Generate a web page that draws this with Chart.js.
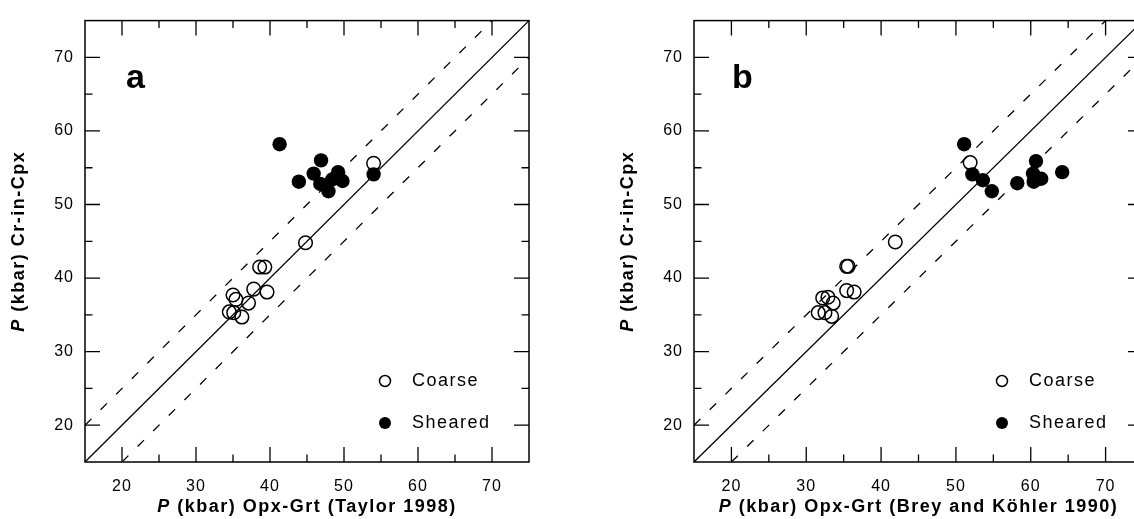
<!DOCTYPE html>
<html>
<head>
<meta charset="utf-8">
<script src="https://cdn.jsdelivr.net/npm/chart.js@4.4.1/dist/chart.umd.min.js"></script>
<style>
html, body { margin: 0; padding: 0; background: #fff; width: 1134px; height: 519px; overflow: hidden; }
canvas { position: absolute; top: 0; }
#chartA { left: 0; }
#chartB { left: 609px; }
</style>
</head>
<body>
<canvas id="chartA" width="560" height="519"></canvas>
<canvas id="chartB" width="565" height="519"></canvas>
<script>
var FONT = "'Liberation Sans', Arial, Helvetica, sans-serif";

// panel a - Opx-Grt after Taylor 1998
var coarseA_x = [34.5, 35.1, 35.0, 35.4, 36.2, 37.1, 37.8, 39.6, 38.6, 39.3, 44.8, 54.0];
var coarseA_y = [35.4, 35.3, 37.7, 37.1, 34.7, 36.6, 38.5, 38.1, 41.5, 41.5, 44.8, 55.6];
var shearedA_x = [41.3, 43.9, 46.9, 45.9, 46.8, 47.9, 48.4, 49.2, 49.8, 54.0];
var shearedA_y = [58.2, 53.1, 56.0, 54.2, 52.8, 51.8, 53.4, 54.4, 53.2, 54.1];

// panel b - Opx-Grt after Brey and Kohler 1990
var coarseB_x = [31.6, 32.5, 32.2, 32.9, 33.6, 33.4, 35.4, 35.6, 35.4, 36.4, 41.9, 51.9];
var coarseB_y = [35.3, 35.3, 37.3, 37.4, 36.6, 34.8, 41.6, 41.6, 38.3, 38.1, 44.9, 55.7];
var shearedB_x = [51.1, 52.2, 53.6, 54.8, 58.2, 60.7, 60.3, 60.4, 61.4, 64.2];
var shearedB_y = [58.2, 54.1, 53.3, 51.8, 52.9, 55.9, 54.2, 53.1, 53.5, 54.4];

// 1:1 line and +/- 5 kbar lines (data units)
var lineOne_x = [15, 75];   var lineOne_y = [15, 75];
var lineUp_x  = [15, 70];   var lineUp_y  = [20, 75];
var lineLow_x = [20, 75];   var lineLow_y = [15, 70];

var axisMin = 15, axisMax = 75, tickStep = 5;
var legendNames = ['Coarse', 'Sheared'];
var yTitle = ' (kbar) Cr-in-Cpx';

function pts(xs, ys) {
    var out = [];
    for (var i = 0; i < xs.length; i++) out.push({x: xs[i], y: ys[i]});
    return out;
}

function spacedFont(ctx, sp) {
    if ('letterSpacing' in ctx) ctx.letterSpacing = sp;
}

var frameTicks = {
    id: 'frameTicks',
    beforeDraw: function(chart) { spacedFont(chart.ctx, '1px'); },
    afterDraw: function(chart) {
        var ctx = chart.ctx, a = chart.chartArea;
        var xs = chart.scales.x, ys = chart.scales.y;
        ctx.save();
        ctx.strokeStyle = '#000';
        ctx.lineWidth = 1.5;
        ctx.strokeRect(a.left, a.top, a.right - a.left, a.bottom - a.top);
        ctx.lineWidth = 1.3;
        ctx.beginPath();
        xs.ticks.forEach(function(t) {
            if (t.value <= axisMin || t.value >= axisMax) return;
            var len = t.value % 10 === 0 ? 15 : 7.5;
            var px = xs.getPixelForValue(t.value);
            ctx.moveTo(px, a.bottom); ctx.lineTo(px, a.bottom - len);
            ctx.moveTo(px, a.top); ctx.lineTo(px, a.top + len);
        });
        ys.ticks.forEach(function(t) {
            if (t.value <= axisMin || t.value >= axisMax) return;
            var len = t.value % 10 === 0 ? 15 : 7.5;
            var py = ys.getPixelForValue(t.value);
            ctx.moveTo(a.left, py); ctx.lineTo(a.left + len, py);
            ctx.moveTo(a.right, py); ctx.lineTo(a.right - len, py);
        });
        ctx.stroke();
        ctx.restore();
    }
};

// axis titles (italic P), panel letter and the legend
var panelText = {
    id: 'panelText',
    afterDraw: function(chart, args, opts) {
        var ctx = chart.ctx, a = chart.chartArea;
        ctx.save();
        ctx.fillStyle = '#000';
        spacedFont(ctx, '1.5px');
        ctx.textBaseline = 'middle';

        // x title
        var fi = 'italic bold 18px ' + FONT, fb = 'bold 18px ' + FONT;
        ctx.font = fi; var wP = ctx.measureText('P').width;
        ctx.font = fb; var wR = ctx.measureText(opts.xTitle).width;
        var x0 = (a.left + a.right) / 2 - (wP + wR) / 2;
        ctx.textAlign = 'left';
        ctx.font = fi; ctx.fillText('P', x0, 507);
        ctx.font = fb; ctx.fillText(opts.xTitle, x0 + wP, 507);

        // y title
        ctx.save();
        ctx.translate(a.left - 66, (a.top + a.bottom) / 2);
        ctx.rotate(-Math.PI / 2);
        ctx.font = fi; wP = ctx.measureText('P').width;
        ctx.font = fb; wR = ctx.measureText(yTitle).width;
        x0 = -(wP + wR) / 2;
        ctx.font = fi; ctx.fillText('P', x0, 0);
        ctx.font = fb; ctx.fillText(yTitle, x0 + wP, 0);
        ctx.restore();

        // panel letter
        spacedFont(ctx, '0px');
        ctx.textBaseline = 'alphabetic';
        ctx.font = 'bold 34px ' + FONT;
        ctx.fillText(opts.letter, a.left + opts.letterDx, a.top + 67);

        // legend
        spacedFont(ctx, '1.5px');
        ctx.font = '18px ' + FONT;
        ctx.textBaseline = 'middle';
        var mx = a.right - opts.legendDx;
        var rows = [a.bottom - 81, a.bottom - 39];
        for (var i = 0; i < legendNames.length; i++) {
            ctx.beginPath();
            ctx.arc(mx, rows[i], i === 0 ? 5.5 : 6, 0, Math.PI * 2);
            if (i === 0) { ctx.lineWidth = 1.5; ctx.strokeStyle = '#000'; ctx.stroke(); }
            else { ctx.fill(); }
            ctx.fillText(legendNames[i], mx + 27, rows[i]);
        }
        ctx.restore();
    }
};

function axis(padding, fit) {
    return {
        type: 'linear', min: axisMin, max: axisMax,
        ticks: {
            stepSize: tickStep, autoSkip: false, maxRotation: 0, padding: padding, color: '#000',
            font: {family: FONT, size: 16},
            callback: function(v) { return (v % 10 === 0 && v > axisMin && v < axisMax) ? v : ''; }
        },
        grid: {display: false, drawTicks: false},
        border: {display: false},
        afterFit: fit
    };
}

function makeChart(id, coarse, sheared, xTitle, letter, letterDx, legendDx) {
    return new Chart(document.getElementById(id), {
        type: 'scatter',
        data: {
            datasets: [
                {label: legendNames[1], data: sheared, backgroundColor: '#000', borderWidth: 0, pointRadius: 7.2, order: 0},
                {label: legendNames[0], data: coarse, backgroundColor: 'rgba(0,0,0,0)', borderColor: '#000', borderWidth: 1.5, pointRadius: 6.8, order: 1},
                {label: '1:1', data: pts(lineOne_x, lineOne_y), showLine: true, borderColor: '#000', borderWidth: 1.3, pointRadius: 0, order: 2},
                {label: '+5', data: pts(lineUp_x, lineUp_y), showLine: true, borderColor: '#000', borderWidth: 1.3, borderDash: [9, 13], pointRadius: 0, order: 3},
                {label: '-5', data: pts(lineLow_x, lineLow_y), showLine: true, borderColor: '#000', borderWidth: 1.3, borderDash: [9, 13], pointRadius: 0, order: 4}
            ]
        },
        options: {
            responsive: false,
            animation: false,
            events: [],
            layout: {padding: {top: 15, right: 31, left: 0, bottom: 0}},
            scales: {
                x: axis(15, function(s) { s.height = 57; }),
                y: axis(11, function(s) { s.width = 85; })
            },
            plugins: {
                legend: {display: false},
                tooltip: {enabled: false},
                panelText: {xTitle: xTitle, letter: letter, letterDx: letterDx, legendDx: legendDx}
            }
        },
        plugins: [frameTicks, panelText]
    });
}

makeChart('chartA', pts(coarseA_x, coarseA_y), pts(shearedA_x, shearedA_y),
    ' (kbar) Opx-Grt (Taylor 1998)', 'a', 41, 144);
makeChart('chartB', pts(coarseB_x, coarseB_y), pts(shearedB_x, shearedB_y),
    ' (kbar) Opx-Grt (Brey and K\u00f6hler 1990)', 'b', 38, 141);
</script>
</body>
</html>
